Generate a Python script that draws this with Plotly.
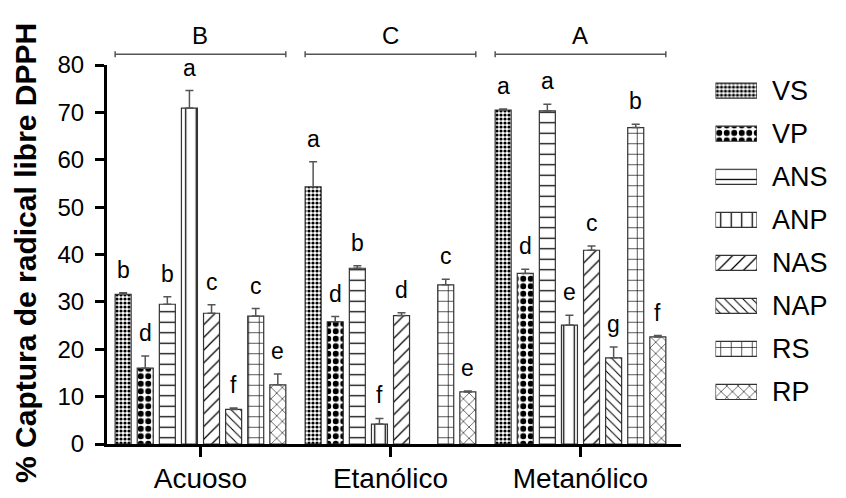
import plotly.graph_objects as go

categories = ["Acuoso", "Etanólico", "Metanólico"]
series = ["VS", "VP", "ANS", "ANP", "NAS", "NAP", "RS", "RP"]
group_labels = ["B", "C", "A"]

# % capture per series, one value per extraction category
VS = [31.6, 54.3, 70.5]
VP = [16.0, 25.8, 36.0]
ANS = [29.5, 37.1, 70.3]
ANP = [70.9, 4.2, 25.1]
NAS = [27.6, 27.1, 40.9]
NAP = [7.3, None, 18.2]
RS = [27.0, 33.6, 66.8]
RP = [12.5, 11.0, 22.6]

# upper error (SD)
VS_err = [0.3, 5.3, 0.2]
VP_err = [2.6, 1.1, 0.9]
ANS_err = [1.6, 0.5, 1.4]
ANP_err = [3.7, 1.2, 2.1]
NAS_err = [1.8, 0.6, 0.9]
NAP_err = [0.3, None, 2.3]
RS_err = [1.6, 1.2, 0.7]
RP_err = [2.3, 0.2, 0.3]

# significance letters
VS_let = ["b", "a", "a"]
VP_let = ["d", "d", "d"]
ANS_let = ["b", "b", "a"]
ANP_let = ["a", "f", "e"]
NAS_let = ["c", "d", "c"]
NAP_let = ["f", None, "g"]
RS_let = ["c", "c", "b"]
RP_let = ["e", "e", "f"]

values = [VS, VP, ANS, ANP, NAS, NAP, RS, RP]
errors = [VS_err, VP_err, ANS_err, ANP_err, NAS_err, NAP_err, RS_err, RP_err]
letters = [VS_let, VP_let, ANS_let, ANP_let, NAS_let, NAP_let, RS_let, RP_let]

# pattern styles (shape, size, solidity)
pat_shape = [".", ".", "-", "|", "/", "\\", "+", "x"]
pat_size = [4, 7.5, 10.5, 10.5, 9, 6.5, 10.5, 8]
pat_sol = [0.5, 0.5, 0.12, 0.12, 0.14, 0.16, 0.12, 0.14]

FONT = "Liberation Sans, Arial, sans-serif"
slot = 0.1163
bar_w = 0.0842
n = len(series)

fig = go.Figure()
annotations = []
for j, name in enumerate(series):
    xs = [g + (j - (n - 1) / 2) * slot for g in range(len(categories))]
    fig.add_trace(go.Bar(
        x=xs, y=values[j], width=bar_w, name=name,
        marker=dict(color="white", line=dict(color="#333", width=1.2),
                    pattern=dict(shape=pat_shape[j], size=pat_size[j], solidity=pat_sol[j],
                                 fgcolor="black", bgcolor="white", fillmode="replace")),
        error_y=dict(type="data", symmetric=False, array=errors[j], arrayminus=[0] * 3,
                     color="#555", thickness=1.5, width=4),
        showlegend=False,
    ))
    for g in range(len(categories)):
        v = values[j][g]
        if v is None or letters[j][g] is None:
            continue
        annotations.append(dict(x=xs[g], y=v + errors[j][g], xref="x", yref="y",
                                text=letters[j][g], showarrow=False, yanchor="bottom",
                                yshift=8, font=dict(size=23, color="black", family=FONT)))

# legend swatches drawn as bars on their own axes
fig.add_trace(go.Bar(
    x=[1] * n, y=series, orientation="h", width=0.35, xaxis="x2", yaxis="y2",
    marker=dict(color="white", line=dict(color="#333", width=1.2),
                pattern=dict(shape=pat_shape, size=pat_size, solidity=pat_sol,
                             fgcolor="black", bgcolor="white", fillmode="replace")),
    showlegend=False,
))

# group brackets
shapes = []
half = (n - 1) / 2 * slot + bar_w / 2
yb = 1.0282
cap = 3 / 379
for g, lab in enumerate(group_labels):
    x0, x1 = g - half, g + half
    shapes.append(dict(type="line", xref="x", yref="paper", x0=x0, x1=x1, y0=yb, y1=yb,
                       line=dict(color="#555", width=1.5)))
    for xx in (x0, x1):
        shapes.append(dict(type="line", xref="x", yref="paper", x0=xx, x1=xx,
                           y0=yb - cap, y1=yb + cap, line=dict(color="#555", width=1.5)))
    annotations.append(dict(x=g, y=yb, xref="x", yref="paper", text=lab, showarrow=False,
                            yanchor="bottom", yshift=3,
                            font=dict(size=24, color="black", family=FONT)))

annotations.append(dict(x=-0.1127, y=0.504, xref="paper", yref="paper",
                        text="<b>% Captura de radical libre DPPH</b>", textangle=-90,
                        showarrow=False, xanchor="center", yanchor="middle",
                        font=dict(size=30, color="black", family=FONT)))

# page body adds an 8px offset, so the figure is 8px smaller on each axis
fig.update_layout(
    width=838, height=490,
    margin=dict(l=99, r=20, t=57, b=54, autoexpand=False),
    plot_bgcolor="white", paper_bgcolor="white",
    barmode="overlay", showlegend=False,
    font=dict(family=FONT, color="black"),
    xaxis=dict(domain=[0, 574 / 719], range=[-0.492, 2.529],
               tickvals=list(range(len(categories))), ticktext=categories,
               showline=True, linewidth=3, linecolor="black",
               ticks="outside", ticklen=10, tickwidth=3, tickcolor="black",
               tickfont=dict(size=28, color="black", family=FONT),
               ticklabelstandoff=-3, automargin=False,
               showgrid=False, zeroline=False),
    yaxis=dict(range=[0, 80], tickvals=list(range(0, 81, 10)),
               showline=True, linewidth=3, linecolor="black",
               ticks="outside", ticklen=9, tickwidth=3, tickcolor="black",
               tickfont=dict(size=24, color="black", family=FONT),
               ticklabelstandoff=6, automargin=False,
               showgrid=False, zeroline=False),
    xaxis2=dict(domain=[0.8463, 0.904], range=[0, 1], anchor="y2", automargin=False,
                showticklabels=False, showline=False, showgrid=False, zeroline=False, ticks=""),
    yaxis2=dict(domain=[0.0805, 0.989], anchor="x2", side="right", type="category",
                categoryorder="array", categoryarray=series, autorange="reversed",
                showline=False, showgrid=False, zeroline=False, ticks="", automargin=False,
                tickfont=dict(size=27, color="black", family=FONT),
                ticklabelstandoff=14),
    shapes=shapes,
    annotations=annotations,
)

fig.write_html("out.html")
